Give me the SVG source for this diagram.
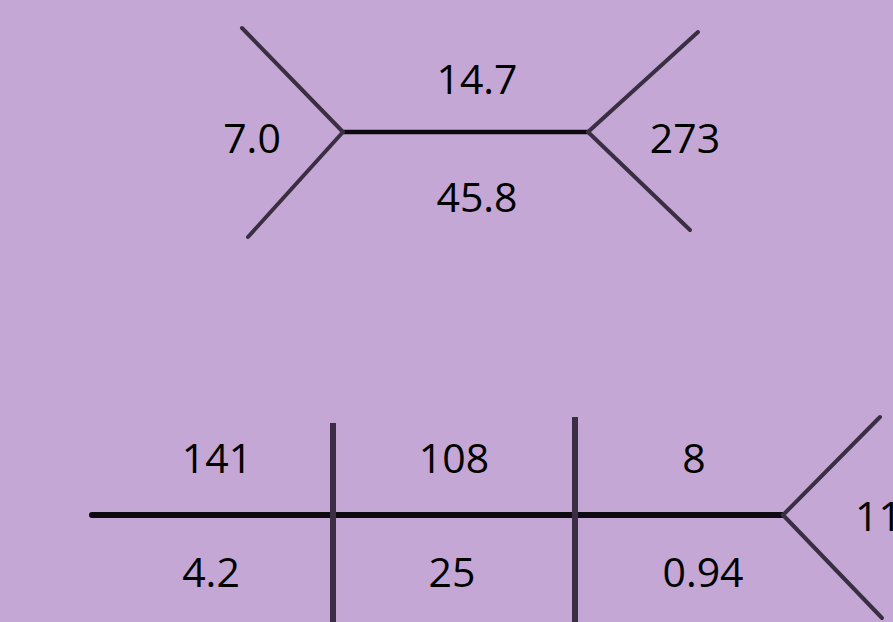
<svg xmlns="http://www.w3.org/2000/svg" width="893" height="622" viewBox="0 0 893 622">
<style>
.bg{fill:#c4a7d5}
.main{stroke:#0d0a10;stroke-width:4.5;stroke-linecap:round;fill:none}
.branch{stroke:#3a2e42;stroke-width:4;stroke-linecap:round;fill:none}
.bar{stroke:#3b2d44;stroke-width:6;fill:none}
.lbl{font-family:"Open Sans","Liberation Sans",sans-serif;font-size:41px;fill:#000;text-anchor:middle}
</style>
<rect class="bg" x="0" y="0" width="893" height="622"/>
<g id="connectors">
  <line class="main" x1="343" y1="132" x2="588" y2="132"/>
  <line class="branch" x1="343" y1="132" x2="242" y2="28"/>
  <line class="branch" x1="343" y1="132" x2="248" y2="237"/>
  <line class="branch" x1="588" y1="132" x2="698" y2="32"/>
  <line class="branch" x1="588" y1="132" x2="690" y2="230"/>
  <line class="main" style="stroke-width:6" x1="92" y1="515" x2="783" y2="515"/>
  <line class="bar" x1="333" y1="423" x2="333" y2="622"/>
  <line class="bar" x1="575" y1="417" x2="575" y2="622"/>
  <line class="branch" x1="783" y1="515" x2="880" y2="417"/>
  <line class="branch" x1="783" y1="515" x2="882" y2="618"/>
</g>
<g id="top-labels">
  <text class="lbl" x="477" y="94">14.7</text>
  <text class="lbl" x="477" y="212">45.8</text>
  <text class="lbl" x="252" y="153">7.0</text>
  <text class="lbl" x="685" y="153">273</text>
</g>
<g id="bottom-labels">
  <text class="lbl" x="217" y="473">141</text>
  <text class="lbl" x="454" y="473">108</text>
  <text class="lbl" x="694" y="473">8</text>
  <text class="lbl" x="211" y="587">4.2</text>
  <text class="lbl" x="452" y="587">25</text>
  <text class="lbl" x="703" y="587">0.94</text>
  <text class="lbl" style="text-anchor:start" x="855" y="531">11</text>
</g>
</svg>
